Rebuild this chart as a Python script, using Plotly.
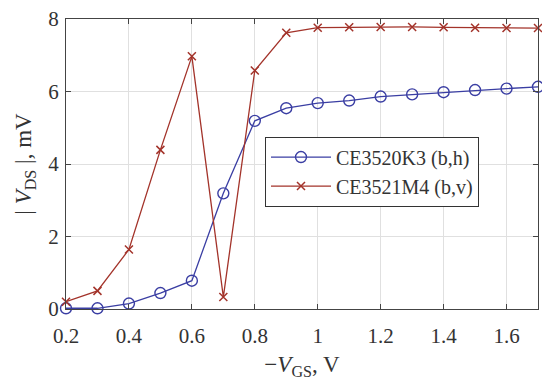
import plotly.graph_objects as go

vgs = [0.2, 0.3, 0.4, 0.5, 0.6, 0.7, 0.8, 0.9, 1.0, 1.1, 1.2, 1.3, 1.4, 1.5, 1.6, 1.7]
k3_vals = [0.02, 0.02, 0.15, 0.44, 0.78, 3.19, 5.19, 5.54, 5.68, 5.75, 5.86, 5.92, 5.98, 6.04, 6.08, 6.13]
m4_vals = [0.2, 0.5, 1.64, 4.39, 6.97, 0.33, 6.58, 7.62, 7.76, 7.77, 7.78, 7.78, 7.77, 7.76, 7.75, 7.75]
series_names = ["CE3520K3 (b,h)", "CE3521M4 (b,v)"]
x_ticks = [0.2, 0.4, 0.6, 0.8, 1.0, 1.2, 1.4, 1.6]
x_tick_labels = ["0.2", "0.4", "0.6", "0.8", "1", "1.2", "1.4", "1.6"]
y_ticks = [0, 2, 4, 6, 8]

FONT = "Liberation Serif"
BLUE = "#3a3ea3"
RED = "#a3332a"

fig = go.Figure()
fig.add_trace(go.Scatter(
    x=vgs, y=k3_vals, name=series_names[0], mode="lines+markers",
    line=dict(color=BLUE, width=1.3),
    marker=dict(symbol="circle-open", size=11, color=BLUE, line=dict(width=1.4)),
    cliponaxis=False,
))
fig.add_trace(go.Scatter(
    x=vgs, y=m4_vals, name=series_names[1], mode="lines+markers",
    line=dict(color=RED, width=1.3),
    marker=dict(symbol="x-thin-open", size=8, color=RED, line=dict(width=1.5, color=RED)),
    cliponaxis=False,
))

axis_common = dict(
    showline=True, linecolor="#444444", linewidth=1, mirror="ticks",
    ticks="inside", ticklen=5, tickcolor="#444444",
    showgrid=True, gridcolor="#e0e0e0", gridwidth=1,
    zeroline=False, automargin=False, ticklabeloverflow="allow",
    tickfont=dict(family=FONT, size=21, color="#333333"),
)

fig.update_layout(
    width=550, height=389,
    margin=dict(l=58, r=20, t=11, b=88, autoexpand=False),
    paper_bgcolor="white", plot_bgcolor="white",
    font=dict(family=FONT, size=21, color="#333333"),
    xaxis=dict(
        range=[0.2, 1.7], tickvals=x_ticks, ticktext=x_tick_labels,
        ticklabelstandoff=8,
        title=dict(text="\u2212<i>V</i><sub>GS</sub>, V", font=dict(family=FONT, size=23), standoff=8),
        **axis_common,
    ),
    yaxis=dict(
        range=[0, 8], tickvals=y_ticks,
        ticklabelstandoff=2,
        title=dict(text="| <i>V</i><sub>DS</sub> |, mV", font=dict(family=FONT, size=23), standoff=10),
        **axis_common,
    ),
    legend=dict(
        x=0.4216, y=0.5946, xanchor="left", yanchor="top",
        bgcolor="white", bordercolor="#333333", borderwidth=1,
        font=dict(family=FONT, size=20, color="#333333"),
        itemwidth=60, tracegroupgap=0,
    ),
    showlegend=True,
)

fig.write_html("out.html")
